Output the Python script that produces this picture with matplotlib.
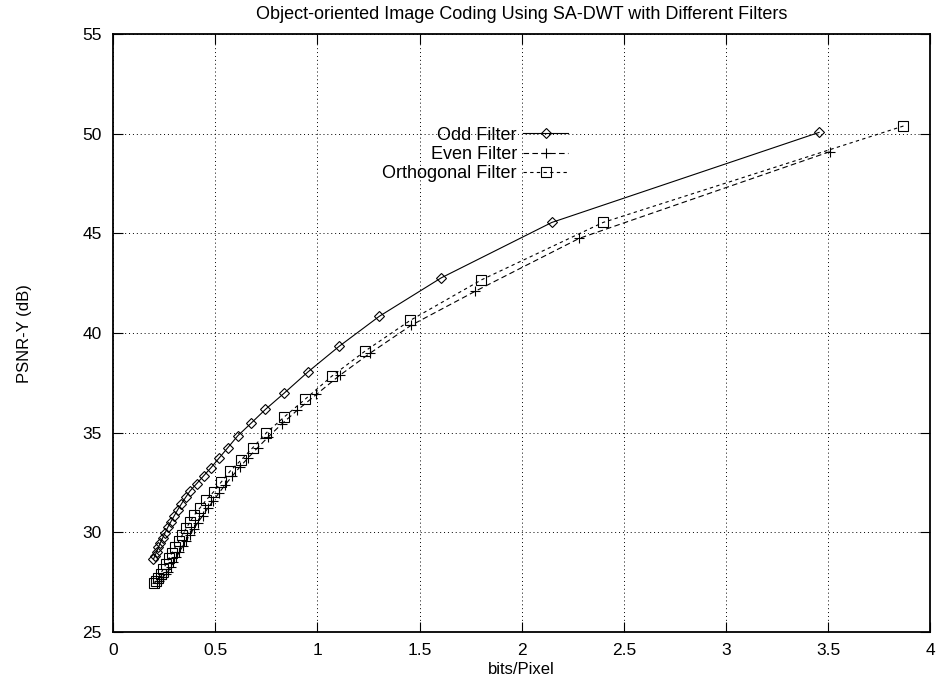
import matplotlib
matplotlib.use("Agg")
import matplotlib.pyplot as plt

plt.rcParams["font.family"] = ["Liberation Sans", "DejaVu Sans"]

# --------------------------
# Data
# --------------------------
odd_x = [3.455, 2.147, 1.606, 1.303, 1.106, 0.954, 0.836, 0.746, 0.675, 0.611,
         0.562, 0.521, 0.480, 0.443, 0.410, 0.377, 0.355, 0.335, 0.316, 0.299,
         0.283, 0.268, 0.255, 0.243, 0.232, 0.222, 0.213, 0.205, 0.198]
odd_y = [50.07, 45.55, 42.77, 40.84, 39.33, 38.05, 36.97, 36.17, 35.47, 34.85,
         34.25, 33.75, 33.25, 32.83, 32.45, 32.08, 31.75, 31.43, 31.12, 30.82,
         30.53, 30.25, 29.98, 29.72, 29.48, 29.24, 29.02, 28.82, 28.65]

even_x = [3.507, 2.281, 1.773, 1.459, 1.259, 1.111, 0.995, 0.902, 0.825, 0.759,
          0.708, 0.662, 0.621, 0.584, 0.550, 0.519, 0.490, 0.463, 0.438, 0.415,
          0.395, 0.376, 0.358, 0.341, 0.325, 0.310, 0.296, 0.282, 0.269, 0.257,
          0.246, 0.236, 0.226, 0.217]
even_y = [49.10, 44.75, 42.10, 40.39, 39.00, 37.89, 36.92, 36.13, 35.43, 34.78,
          34.25, 33.75, 33.28, 32.83, 32.40, 31.98, 31.58, 31.20, 30.83, 30.48,
          30.18, 29.88, 29.58, 29.30, 29.02, 28.75, 28.50, 28.25, 28.02, 27.90,
          27.78, 27.66, 27.55, 27.45]

orth_x = [3.868, 2.398, 1.803, 1.455, 1.234, 1.070, 0.939, 0.839, 0.751, 0.684,
          0.626, 0.574, 0.530, 0.492, 0.456, 0.426, 0.398, 0.377, 0.358, 0.340,
          0.322, 0.305, 0.289, 0.274, 0.260, 0.246, 0.233, 0.221, 0.211, 0.203]
orth_y = [50.39, 45.55, 42.67, 40.64, 39.10, 37.83, 36.67, 35.80, 35.00, 34.25,
          33.62, 33.08, 32.53, 32.03, 31.62, 31.23, 30.87, 30.53, 30.20, 29.88,
          29.57, 29.27, 28.97, 28.69, 28.42, 28.16, 27.92, 27.70, 27.55, 27.45]

x_ticks = [0, 0.5, 1, 1.5, 2, 2.5, 3, 3.5, 4]
y_ticks = [25, 30, 35, 40, 45, 50, 55]

# --------------------------
# Plot
# --------------------------
fig = plt.figure(figsize=(9.37, 6.83), dpi=100)
ax = fig.add_axes([0.1206, 0.0747, 0.8724, 0.8753])

ax.plot(odd_x, odd_y, color="black", lw=0.8, ls="-",
        marker="D", ms=5.5, mfc="none", mec="black", mew=0.8,
        label="Odd Filter")
ax.plot(even_x, even_y, color="black", lw=0.8, ls=(0, (5, 3)),
        marker="+", ms=7.5, mec="black", mew=0.8,
        label="Even Filter")
ax.plot(orth_x, orth_y, color="black", lw=0.8, ls=(0, (3, 3)),
        marker="s", ms=7.5, mfc="none", mec="black", mew=0.8,
        label="Orthogonal Filter")

ax.set_xlim(0, 4)
ax.set_ylim(25, 55)
ax.set_xticks(x_ticks)
ax.set_xticklabels([f"{t:g}" for t in x_ticks])
ax.set_yticks(y_ticks)

ax.grid(True, color="black", ls=(0, (1, 3)), lw=0.7)
ax.tick_params(direction="in", length=7, width=0.8, top=True, right=True,
               labelsize=12.5, pad=8)
for s in ax.spines.values():
    s.set_linewidth(1.3)

ax.set_title("Object-oriented Image Coding Using SA-DWT with Different Filters",
             fontsize=13, pad=11)
ax.set_xlabel("bits/Pixel", fontsize=12, labelpad=3)
ax.set_ylabel("PSNR-Y (dB)", fontsize=12, labelpad=36)

leg = ax.legend(loc="upper right", bbox_to_anchor=(0.557, 0.845),
                markerfirst=False, frameon=False, fontsize=13,
                handlelength=2.5, handletextpad=0.35, labelspacing=0.12,
                borderpad=0, borderaxespad=0)

fig.savefig("out.png", dpi=100)
